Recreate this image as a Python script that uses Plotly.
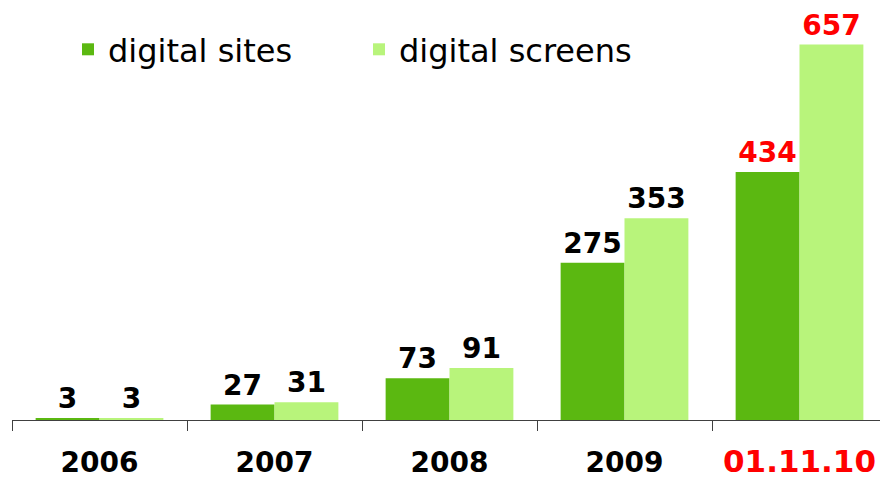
import plotly.graph_objects as go

categories = ["2006", "2007", "2008", "2009", "01.11.10"]
digital_sites = [3, 27, 73, 275, 434]
digital_screens = [3, 31, 91, 353, 657]
tick_labels = ["<b>2006</b>", "<b>2007</b>", "<b>2008</b>", "<b>2009</b>",
               "<b><span style='color:#FF0000;font-size:31px'>01.11.10</span></b>"]

dark = "#5BB811"
light = "#B8F47B"
label_colors = ["#000000", "#000000", "#000000", "#000000", "#FF0000"]

fig = go.Figure()
fig.add_trace(go.Bar(
    name="digital sites", x=categories, y=digital_sites,
    marker=dict(color=dark, line=dict(width=0)),
    text=[f"<b>{v}</b>" for v in digital_sites], textposition="outside",
    textfont=dict(size=28, color=label_colors, family="DejaVu Sans"),
    cliponaxis=False,
))
fig.add_trace(go.Bar(
    name="digital screens", x=categories, y=digital_screens,
    marker=dict(color=light, line=dict(width=0)),
    text=[f"<b>{v}</b>" for v in digital_screens], textposition="outside",
    textfont=dict(size=28, color=label_colors, family="DejaVu Sans"),
    cliponaxis=False,
))

fig.update_layout(
    width=880, height=478,
    margin=dict(l=4, r=1, t=12, b=66, autoexpand=False),
    paper_bgcolor="white", plot_bgcolor="white",
    barmode="group", bargap=0.27, bargroupgap=0,
    font=dict(family="DejaVu Sans", color="#000000"),
    showlegend=True,
    legend=dict(orientation="h", x=0.064, y=0.995, xanchor="left", yanchor="top",
                font=dict(size=32, color="#000000"),
                entrywidth=246, entrywidthmode="pixels",
                itemsizing="constant", traceorder="normal",
                bgcolor="rgba(0,0,0,0)"),
)
fig.update_xaxes(
    type="category", tickmode="array", tickvals=categories, ticktext=tick_labels,
    tickson="boundaries", ticks="outside", ticklen=10, tickcolor="#404040",
    showline=True, linecolor="#404040", linewidth=1, automargin=False,
    ticklabelstandoff=17,
    tickfont=dict(size=28, color="#000000"), showgrid=False,
)
fig.update_yaxes(range=[0, 700], visible=False, showgrid=False, automargin=False)

fig.write_html("out.html")
